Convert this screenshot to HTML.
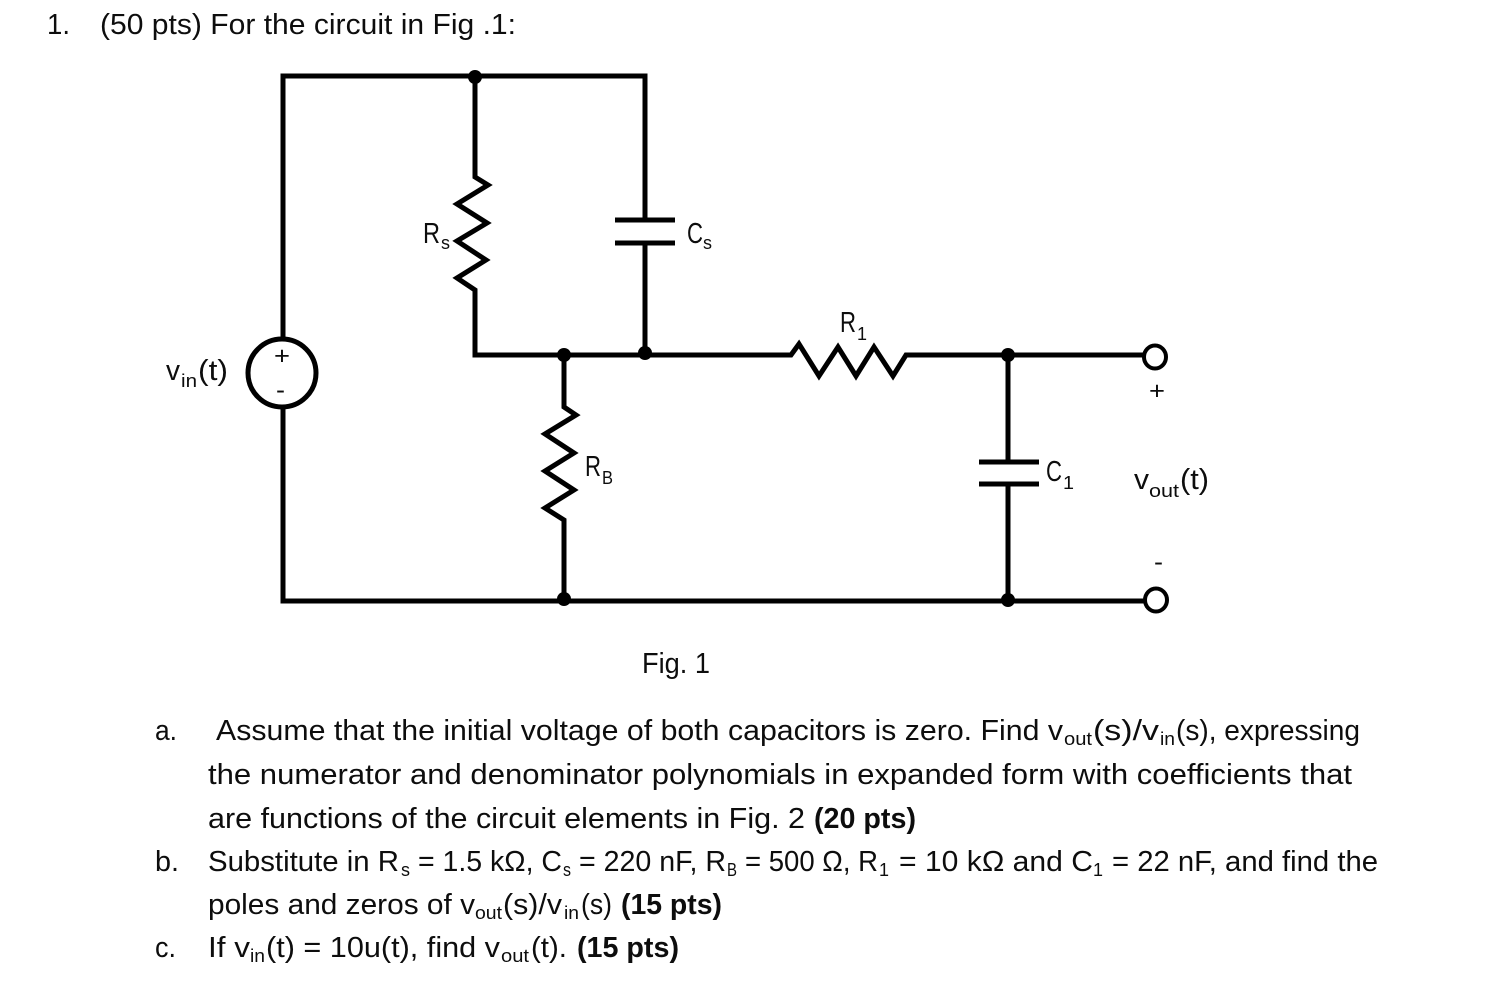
<!DOCTYPE html>
<html>
<head>
<meta charset="utf-8">
<title>Circuit problem</title>
<style>
html,body{margin:0;padding:0;background:#fff;width:1494px;height:1006px;overflow:hidden}
svg{display:block}
text{font-family:"Liberation Sans",sans-serif;fill:#0d0d0d;font-size:29px}
.s{font-size:18px}
.b{font-weight:bold}
.l{font-size:29px}
.w{fill:none;stroke:#000;stroke-width:5}
</style>
</head>
<body>
<svg width="1494" height="1006" viewBox="0 0 1494 1006" xmlns="http://www.w3.org/2000/svg">
<rect width="1494" height="1006" fill="#fff"/>

<!-- wires -->
<path class="w" d="M283 338V76H645V220M645 243V355M475 76V177L488 185L457 204L487 223L457 241L486 260L457 278L475 290V355H791L799 344L819 376L838 347L856 376L874 347L893 376L906 355H1144"/>
<path class="w" d="M283 408V601H1145M564 355V407L576 415L545 434L574 453L545 471L574 490L545 508L564 520V601M1008 355V462M1008 484V601"/>
<!-- capacitor plates -->
<path class="w" d="M615 220H675M615 243H675M979 462H1039M979 484H1039"/>
<!-- source -->
<circle cx="282" cy="373" r="34" fill="#fff" stroke="#000" stroke-width="5"/>
<!-- terminals -->
<ellipse cx="1155" cy="357" rx="11" ry="11.5" fill="#fff" stroke="#000" stroke-width="4"/>
<ellipse cx="1156" cy="600" rx="11" ry="11.5" fill="#fff" stroke="#000" stroke-width="4"/>
<!-- junctions -->
<circle cx="475" cy="77" r="7"/><circle cx="564" cy="355" r="7"/><circle cx="645" cy="353" r="7"/>
<circle cx="1008" cy="355" r="7"/><circle cx="564" cy="599" r="7"/><circle cx="1008" cy="600" r="7"/>

<!-- header -->
<text x="47" y="34" textLength="23" lengthAdjust="spacingAndGlyphs">1.</text>
<text x="100" y="34" textLength="416" lengthAdjust="spacingAndGlyphs">(50 pts) For the circuit in Fig .1:</text>

<!-- circuit labels -->
<text class="l" x="423" y="243" textLength="17" lengthAdjust="spacingAndGlyphs">R</text><text class="s" x="441" y="249" textLength="9" lengthAdjust="spacingAndGlyphs">s</text>
<text class="l" x="687" y="243" textLength="16" lengthAdjust="spacingAndGlyphs">C</text><text class="s" x="703" y="249" textLength="9" lengthAdjust="spacingAndGlyphs">s</text>
<text class="l" x="166" y="380" textLength="14" lengthAdjust="spacingAndGlyphs">v</text><text class="s" x="181" y="387" textLength="16" lengthAdjust="spacingAndGlyphs">in</text><text class="l" x="198" y="380" textLength="30" lengthAdjust="spacingAndGlyphs">(t)</text>
<text x="274" y="364" textLength="16" lengthAdjust="spacingAndGlyphs" style="font-size:25px">+</text>
<text x="276" y="398" textLength="9" lengthAdjust="spacingAndGlyphs" style="font-size:25px">-</text>
<text class="l" x="840" y="332" textLength="16" lengthAdjust="spacingAndGlyphs">R</text><text class="s" x="857" y="340" textLength="10" lengthAdjust="spacingAndGlyphs">1</text>
<text class="l" x="585" y="476" textLength="16" lengthAdjust="spacingAndGlyphs">R</text><text class="s" x="602" y="484" textLength="11" lengthAdjust="spacingAndGlyphs">B</text>
<text class="l" x="1046" y="481" textLength="16" lengthAdjust="spacingAndGlyphs">C</text><text class="s" x="1063" y="489" textLength="11" lengthAdjust="spacingAndGlyphs">1</text>
<text class="l" x="1134" y="489" textLength="15" lengthAdjust="spacingAndGlyphs">v</text><text class="s" x="1149" y="497" textLength="30" lengthAdjust="spacingAndGlyphs">out</text><text class="l" x="1180" y="489" textLength="29" lengthAdjust="spacingAndGlyphs">(t)</text>
<text x="1149" y="399" textLength="16" lengthAdjust="spacingAndGlyphs" style="font-size:25px">+</text>
<text x="1154" y="570" textLength="9" lengthAdjust="spacingAndGlyphs" style="font-size:25px">-</text>

<text x="642" y="673" textLength="68" lengthAdjust="spacingAndGlyphs">Fig. 1</text>

<!-- a -->
<text x="155" y="740" textLength="22" lengthAdjust="spacingAndGlyphs">a.</text>
<text x="216" y="740" textLength="847" lengthAdjust="spacingAndGlyphs">Assume that the initial voltage of both capacitors is zero. Find v</text>
<text class="s" x="1064" y="745" textLength="28" lengthAdjust="spacingAndGlyphs">out</text>
<text x="1093" y="740" textLength="66" lengthAdjust="spacingAndGlyphs">(s)/v</text>
<text class="s" x="1160" y="745" textLength="15" lengthAdjust="spacingAndGlyphs">in</text>
<text x="1176" y="740" textLength="184" lengthAdjust="spacingAndGlyphs">(s), expressing</text>
<text x="208" y="784" textLength="1144" lengthAdjust="spacingAndGlyphs">the numerator and denominator polynomials in expanded form with coefficients that</text>
<text x="208" y="828" textLength="597" lengthAdjust="spacingAndGlyphs">are functions of the circuit elements in Fig. 2</text>
<text class="b" x="814" y="828" textLength="102" lengthAdjust="spacingAndGlyphs">(20 pts)</text>

<!-- b -->
<text x="155" y="871" textLength="24" lengthAdjust="spacingAndGlyphs">b.</text>
<text x="208" y="871" textLength="191" lengthAdjust="spacingAndGlyphs">Substitute in R</text>
<text class="s" x="401" y="876" textLength="9" lengthAdjust="spacingAndGlyphs">s</text>
<text x="418" y="871" textLength="144" lengthAdjust="spacingAndGlyphs">= 1.5 kΩ, C</text>
<text class="s" x="563" y="876" textLength="8" lengthAdjust="spacingAndGlyphs">s</text>
<text x="579" y="871" textLength="147" lengthAdjust="spacingAndGlyphs">= 220 nF, R</text>
<text class="s" x="727" y="876" textLength="10" lengthAdjust="spacingAndGlyphs">B</text>
<text x="745" y="871" textLength="133" lengthAdjust="spacingAndGlyphs">= 500 Ω, R</text>
<text class="s" x="879" y="876" textLength="10" lengthAdjust="spacingAndGlyphs">1</text>
<text x="899" y="871" textLength="194" lengthAdjust="spacingAndGlyphs">= 10 kΩ and C</text>
<text class="s" x="1093" y="876" textLength="10" lengthAdjust="spacingAndGlyphs">1</text>
<text x="1112" y="871" textLength="266" lengthAdjust="spacingAndGlyphs">= 22 nF, and find the</text>
<text x="208" y="914" textLength="267" lengthAdjust="spacingAndGlyphs">poles and zeros of v</text>
<text class="s" x="475" y="919" textLength="27" lengthAdjust="spacingAndGlyphs">out</text>
<text x="503" y="914" textLength="59" lengthAdjust="spacingAndGlyphs">(s)/v</text>
<text class="s" x="564" y="919" textLength="15" lengthAdjust="spacingAndGlyphs">in</text>
<text x="581" y="914" textLength="31" lengthAdjust="spacingAndGlyphs">(s)</text>
<text class="b" x="621" y="914" textLength="101" lengthAdjust="spacingAndGlyphs">(15 pts)</text>

<!-- c -->
<text x="155" y="957" textLength="21" lengthAdjust="spacingAndGlyphs">c.</text>
<text x="208" y="957" textLength="42" lengthAdjust="spacingAndGlyphs">If v</text>
<text class="s" x="250" y="962" textLength="15" lengthAdjust="spacingAndGlyphs">in</text>
<text x="266" y="957" textLength="234" lengthAdjust="spacingAndGlyphs">(t) = 10u(t), find v</text>
<text class="s" x="501" y="962" textLength="28" lengthAdjust="spacingAndGlyphs">out</text>
<text x="531" y="957" textLength="36" lengthAdjust="spacingAndGlyphs">(t).</text>
<text class="b" x="577" y="957" textLength="102" lengthAdjust="spacingAndGlyphs">(15 pts)</text>
</svg>
</body>
</html>
